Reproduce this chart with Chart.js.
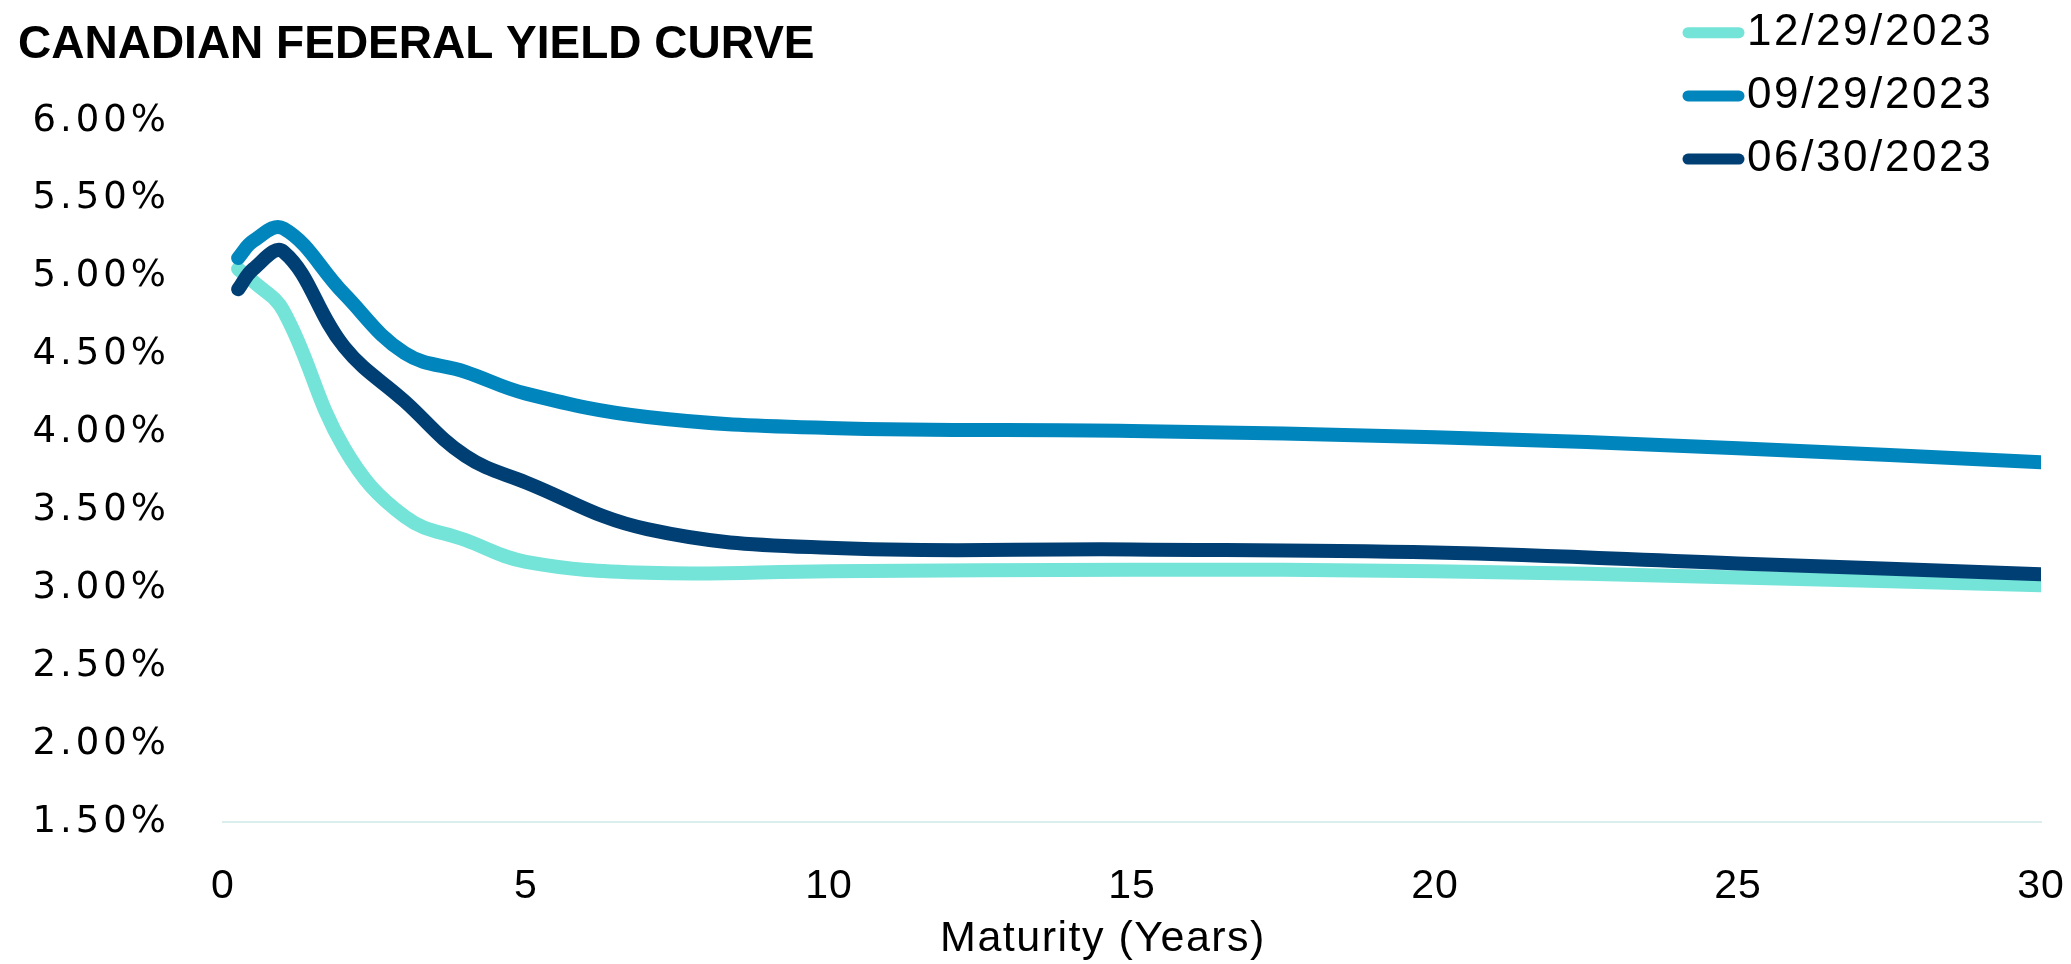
<!DOCTYPE html>
<html>
<head>
<meta charset="utf-8">
<script src="https://cdn.jsdelivr.net/npm/chart.js@4/dist/chart.umd.min.js"></script>
<style>
  html, body { margin: 0; padding: 0; background: #ffffff; overflow: hidden; }
  canvas { display: block; }
</style>
</head>
<body>
<canvas id="c" width="2071" height="964"></canvas>
<script>
// ---------- data ----------
const chartTitle = 'CANADIAN FEDERAL YIELD CURVE';
const xAxisTitle = 'Maturity (Years)';
const maturities = [0.25, 0.5, 1, 2, 3, 4, 5, 7, 10, 15, 20, 25, 30];
const seriesLabels = ['12/29/2023', '09/29/2023', '06/30/2023'];
const yields_20231229 = [5.05, 4.97, 4.78, 3.90, 3.46, 3.31, 3.17, 3.10, 3.11, 3.12, 3.11, 3.07, 3.02];
const yields_20230929 = [5.12, 5.23, 5.31, 4.89, 4.51, 4.39, 4.25, 4.10, 4.03, 4.01, 3.97, 3.90, 3.81];
const yields_20230630 = [4.92, 5.05, 5.16, 4.55, 4.20, 3.85, 3.68, 3.38, 3.26, 3.25, 3.23, 3.16, 3.09];
const xTickValues = [0, 5, 10, 15, 20, 25, 30];
const yTickValues = [1.5, 2.0, 2.5, 3.0, 3.5, 4.0, 4.5, 5.0, 5.5, 6.0];
const seriesColors = ['#74E3D8', '#0085BD', '#003F73'];

const seriesValues = [yields_20231229, yields_20230929, yields_20230630];
const toPoints = vals => maturities.map((m, i) => ({ x: m, y: vals[i] }));

const SANS = '"Liberation Sans", Arial, Helvetica, sans-serif';
const WIDE = '"DejaVu Sans", "Liberation Sans", sans-serif';

const decor = {
  id: 'decor',
  beforeDraw(chart) {
    chart.ctx.letterSpacing = '1px';
  },
  afterDraw(chart) {
    const ctx = chart.ctx;
    ctx.save();
    ctx.letterSpacing = '0px';
    ctx.fillStyle = '#000000';
    ctx.textAlign = 'left';
    ctx.textBaseline = 'alphabetic';
    ctx.font = 'bold 46px ' + SANS;
    ctx.fillText(chartTitle, 18, 58);

    // x-axis title
    ctx.font = '43px ' + SANS;
    ctx.letterSpacing = '1.5px';
    ctx.textAlign = 'center';
    ctx.fillText(xAxisTitle, 1103, 951);

    // legend
    ctx.textAlign = 'left';
    ctx.font = '44px ' + SANS;
    ctx.letterSpacing = '2.6px';
    chart.data.datasets.forEach((ds, i) => {
      const yLine = 32.7 + i * 63.2;
      ctx.strokeStyle = ds.borderColor;
      ctx.lineWidth = 11;
      ctx.lineCap = 'round';
      ctx.beginPath();
      ctx.moveTo(1688, yLine);
      ctx.lineTo(1739, yLine);
      ctx.stroke();
      ctx.fillStyle = '#000000';
      ctx.fillText(ds.label, 1747, yLine + 12.1);
    });
    ctx.restore();
  }
};

function wrapYLabels(s) {
  if (s._lsWrapped) return;
  s._lsWrapped = true;
  const orig = s.drawLabels;
  s.drawLabels = function (area) {
    const prev = this.ctx.letterSpacing;
    this.ctx.letterSpacing = '4px';
    orig.call(this, area);
    this.ctx.letterSpacing = prev;
  };
}

new Chart(document.getElementById('c'), {
  type: 'line',
  data: {
    datasets: seriesLabels.map((lab, i) => ({
      label: lab,
      data: toPoints(seriesValues[i]),
      borderColor: seriesColors[i],
      backgroundColor: seriesColors[i],
      borderWidth: 14,
      borderCapStyle: 'round',
      borderJoinStyle: 'round',
      tension: 0.4,
      pointRadius: 0,
      pointHoverRadius: 0,
      fill: false,
      order: 3 - i
    }))
  },
  options: {
    responsive: false,
    animation: false,
    devicePixelRatio: 1,
    layout: { padding: { top: 121, right: 30, bottom: 0, left: 0 } },
    plugins: {
      legend: { display: false },
      title: { display: false },
      tooltip: { enabled: false }
    },
    scales: {
      x: {
        type: 'linear',
        min: xTickValues[0],
        max: xTickValues[xTickValues.length - 1],
        afterBuildTicks: s => { s.ticks = xTickValues.map(v => ({ value: v })); },
        afterFit: s => { s.paddingLeft = 0; s.paddingRight = 0; s.height = 142; },
        ticks: { color: '#000000', font: { family: SANS, size: 41 }, padding: 40, maxRotation: 0, autoSkip: false },
        grid: { display: false, drawTicks: false },
        border: { display: true, color: '#DCEDED', width: 2 },
        title: { display: false }
      },
      y: {
        min: yTickValues[0],
        max: yTickValues[yTickValues.length - 1],
        afterBuildTicks: s => { s.ticks = yTickValues.map(v => ({ value: v })); },
        ticks: {
          color: '#000000',
          font: { family: WIDE, size: 37 },
          padding: 53,
          autoSkip: false,
          callback: v => Number(v).toFixed(2) + '%'
        },
        grid: { display: false, drawTicks: false },
        border: { display: false },
        afterFit: s => { s.width = 223; s.paddingTop = 0; s.paddingBottom = 0; wrapYLabels(s); }
      }
    }
  },
  plugins: [decor]
});
</script>
</body>
</html>
